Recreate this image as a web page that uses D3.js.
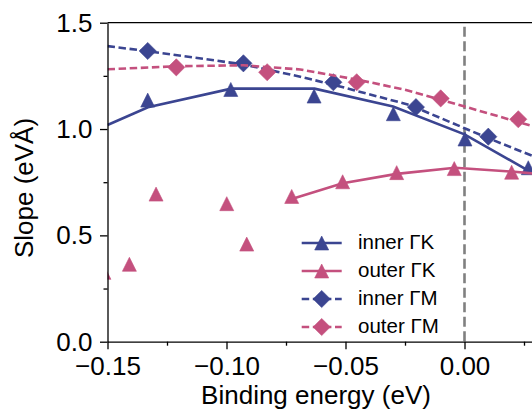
<!DOCTYPE html>
<html>
<head>
<meta charset="utf-8">
<script src="https://cdn.jsdelivr.net/npm/d3@7"></script>
<style>
  body { margin: 0; background: #fff; }
</style>
</head>
<body>
<svg></svg>
<script>
const width = 532;
const height = 412;

// inner ΓK (triangles + solid fit)
const innerGK_E = [-0.1331, -0.0982, -0.0632, -0.0299, 0.0002, 0.0268];
const innerGK_slope = [1.136, 1.186, 1.155, 1.072, 0.953, 0.818];
const innerGK_fitE = [-0.150, -0.133, -0.098, -0.063, -0.030, 0.000, 0.027, 0.032];
const innerGK_fit = [1.019, 1.102, 1.190, 1.190, 1.106, 0.975, 0.803, 0.772];

// outer ΓK (triangles, scattered ones have no line)
const outerGK_scatterE = [-0.1515, -0.1408, -0.1296, -0.0999, -0.0915];
const outerGK_scatter = [0.326, 0.364, 0.694, 0.649, 0.459];
const outerGK_E = [-0.0726, -0.0512, -0.0285, -0.0043, 0.0198];
const outerGK_slope = [0.683, 0.752, 0.795, 0.814, 0.797];
const outerGK_fitE = [-0.0726, -0.0512, -0.0285, -0.004, 0.0198, 0.032];
const outerGK_fit = [0.671, 0.745, 0.789, 0.818, 0.800, 0.788];

// inner ΓM (diamonds + dashed fit)
const innerGM_E = [-0.1331, -0.0929, -0.0551, -0.0204, 0.0100];
const innerGM_slope = [1.367, 1.309, 1.220, 1.103, 0.964];
const innerGM_fitE = [-0.150, -0.133, -0.093, -0.069, -0.055, -0.023, 0.000, 0.010, 0.032];
const innerGM_fit = [1.390, 1.366, 1.304, 1.246, 1.208, 1.113, 1.004, 0.957, 0.858];

// outer ΓM (diamonds + dashed fit)
const outerGM_E = [-0.1211, -0.0829, -0.0453, -0.0100, 0.0226];
const outerGM_slope = [1.290, 1.267, 1.220, 1.144, 1.046];
const outerGM_fitE = [-0.150, -0.121, -0.093, -0.069, -0.045, -0.025, -0.010, 0.0226, 0.032];
const outerGM_fit = [1.281, 1.295, 1.300, 1.280, 1.232, 1.185, 1.138, 1.033, 1.003];

const xTicks = [-0.15, -0.10, -0.05, 0.00];
const xMinor = [-0.125, -0.075, -0.025, 0.025];
const yTicks = [0, 0.5, 1.0, 1.5];
const yMinor = [0.25, 0.75, 1.25];

const legendLabels = ["inner ΓK", "outer ΓK", "inner ΓM", "outer ΓM"];

const blue = "#3b4591";
const pink = "#c4507e";
const font = "'Liberation Sans', Arial, Helvetica, sans-serif";

const mLeft = 107.5, mTop = 22.7, plotW = 428.4, plotH = 319;

const x = d3.scaleLinear().domain([-0.15, 0.03]).range([mLeft, mLeft + plotW]);
const y = d3.scaleLinear().domain([0, 1.5]).range([mTop + plotH, mTop]);

const svg = d3.select('svg')
  .attr('width', width)
  .attr('height', height)
  .style('font-family', font);

svg.append('defs').append('clipPath')
  .attr('id', 'plot-clip')
  .append('rect')
  .attr('x', mLeft)
  .attr('y', mTop)
  .attr('width', plotW + 10)
  .attr('height', plotH);

const tri = s => `M0,${-s / 2}L${s / 2},${s / 2}L${-s / 2},${s / 2}Z`;
const dia = s => `M0,${-s}L${s},0L0,${s}L${-s},0Z`;

const series = [
  { color: blue, dash: null, shape: tri(14), fitE: innerGK_fitE, fit: innerGK_fit, E: innerGK_E, v: innerGK_slope },
  { color: pink, dash: null, shape: tri(14), fitE: outerGK_fitE, fit: outerGK_fit, E: outerGK_scatterE.concat(outerGK_E), v: outerGK_scatter.concat(outerGK_slope) },
  { color: blue, dash: "7.5,3.6", shape: dia(8.6), fitE: innerGM_fitE, fit: innerGM_fit, E: innerGM_E, v: innerGM_slope },
  { color: pink, dash: "7.5,3.6", shape: dia(8.6), fitE: outerGM_fitE, fit: outerGM_fit, E: outerGM_E, v: outerGM_slope }
];

// vertical reference at E_F
svg.append('line')
  .attr('x1', x(0)).attr('x2', x(0))
  .attr('y1', y(1.5)).attr('y2', y(0))
  .attr('stroke', '#808080')
  .attr('stroke-width', 2.6)
  .attr('stroke-dasharray', '10,4.5')
  .attr('stroke-dashoffset', -4);

const plot = svg.append('g').attr('clip-path', 'url(#plot-clip)');

const line = d3.line()
  .x(d => x(d[0]))
  .y(d => y(d[1]));

series.forEach(s => {
  plot.append('path')
    .datum(d3.zip(s.fitE, s.fit))
    .attr('fill', 'none')
    .attr('stroke', s.color)
    .attr('stroke-width', 2.6)
    .attr('stroke-dasharray', s.dash)
    .attr('d', line);

  plot.append('g')
    .selectAll('path')
    .data(d3.zip(s.E, s.v))
    .enter().append('path')
      .attr('d', s.shape)
      .attr('transform', d => `translate(${x(d[0])},${y(d[1])})`)
      .attr('fill', s.color)
      .attr('stroke', s.color)
      .attr('stroke-width', 0.6);
});

// axes
const fmtX = d3.format('.2f');
const fmtY = d3.format('.1f');

svg.append('g')
  .attr('transform', `translate(0,${mTop + plotH})`)
  .call(d3.axisBottom(x).tickValues(xTicks).tickFormat(fmtX).tickSize(7.5).tickSizeOuter(0).tickPadding(7));

svg.append('g')
  .attr('transform', `translate(0,${mTop + plotH})`)
  .call(d3.axisBottom(x).tickValues(xMinor).tickFormat('').tickSize(4).tickSizeOuter(0))
  .call(g => g.select('.domain').remove());

svg.append('g')
  .attr('transform', `translate(${mLeft},0)`)
  .call(d3.axisLeft(y).tickValues(yTicks).tickFormat(fmtY).tickSize(7.5).tickSizeOuter(0).tickPadding(7.5));

svg.append('g')
  .attr('transform', `translate(${mLeft},0)`)
  .call(d3.axisLeft(y).tickValues(yMinor).tickFormat('').tickSize(4).tickSizeOuter(0))
  .call(g => g.select('.domain').remove());

svg.selectAll('.domain, .tick line')
  .attr('stroke', '#000')
  .attr('stroke-width', 1.3);

svg.selectAll('.tick text')
  .attr('font-size', 26)
  .attr('font-family', font)
  .attr('fill', '#000');

// top spine
svg.append('line')
  .attr('x1', mLeft).attr('x2', mLeft + plotW)
  .attr('y1', mTop).attr('y2', mTop)
  .attr('stroke', '#000')
  .attr('stroke-width', 1.3);

svg.append('text')
  .attr('x', 316)
  .attr('y', 404)
  .attr('text-anchor', 'middle')
  .attr('font-size', 26)
  .text('Binding energy (eV)');

svg.append('text')
  .attr('transform', 'translate(33,188) rotate(-90)')
  .attr('text-anchor', 'middle')
  .attr('font-size', 26)
  .text('Slope (eVÅ)');

// legend
const legendRows = [243, 271, 299, 327];
const legend = svg.append('g');
series.forEach((s, i) => {
  const row = legend.append('g').attr('transform', `translate(0,${legendRows[i]})`);
  row.append('line')
    .attr('x1', 301.7).attr('x2', 341.7)
    .attr('stroke', s.color)
    .attr('stroke-width', 2.6)
    .attr('stroke-dasharray', s.dash);
  row.append('path')
    .attr('d', s.shape)
    .attr('transform', 'translate(321.7,0)')
    .attr('fill', s.color)
    .attr('stroke', s.color)
    .attr('stroke-width', 0.6);
  row.append('text')
    .attr('x', 358)
    .attr('y', 5.5)
    .attr('font-size', 20.5)
    .text(legendLabels[i]);
});
</script>
</body>
</html>
